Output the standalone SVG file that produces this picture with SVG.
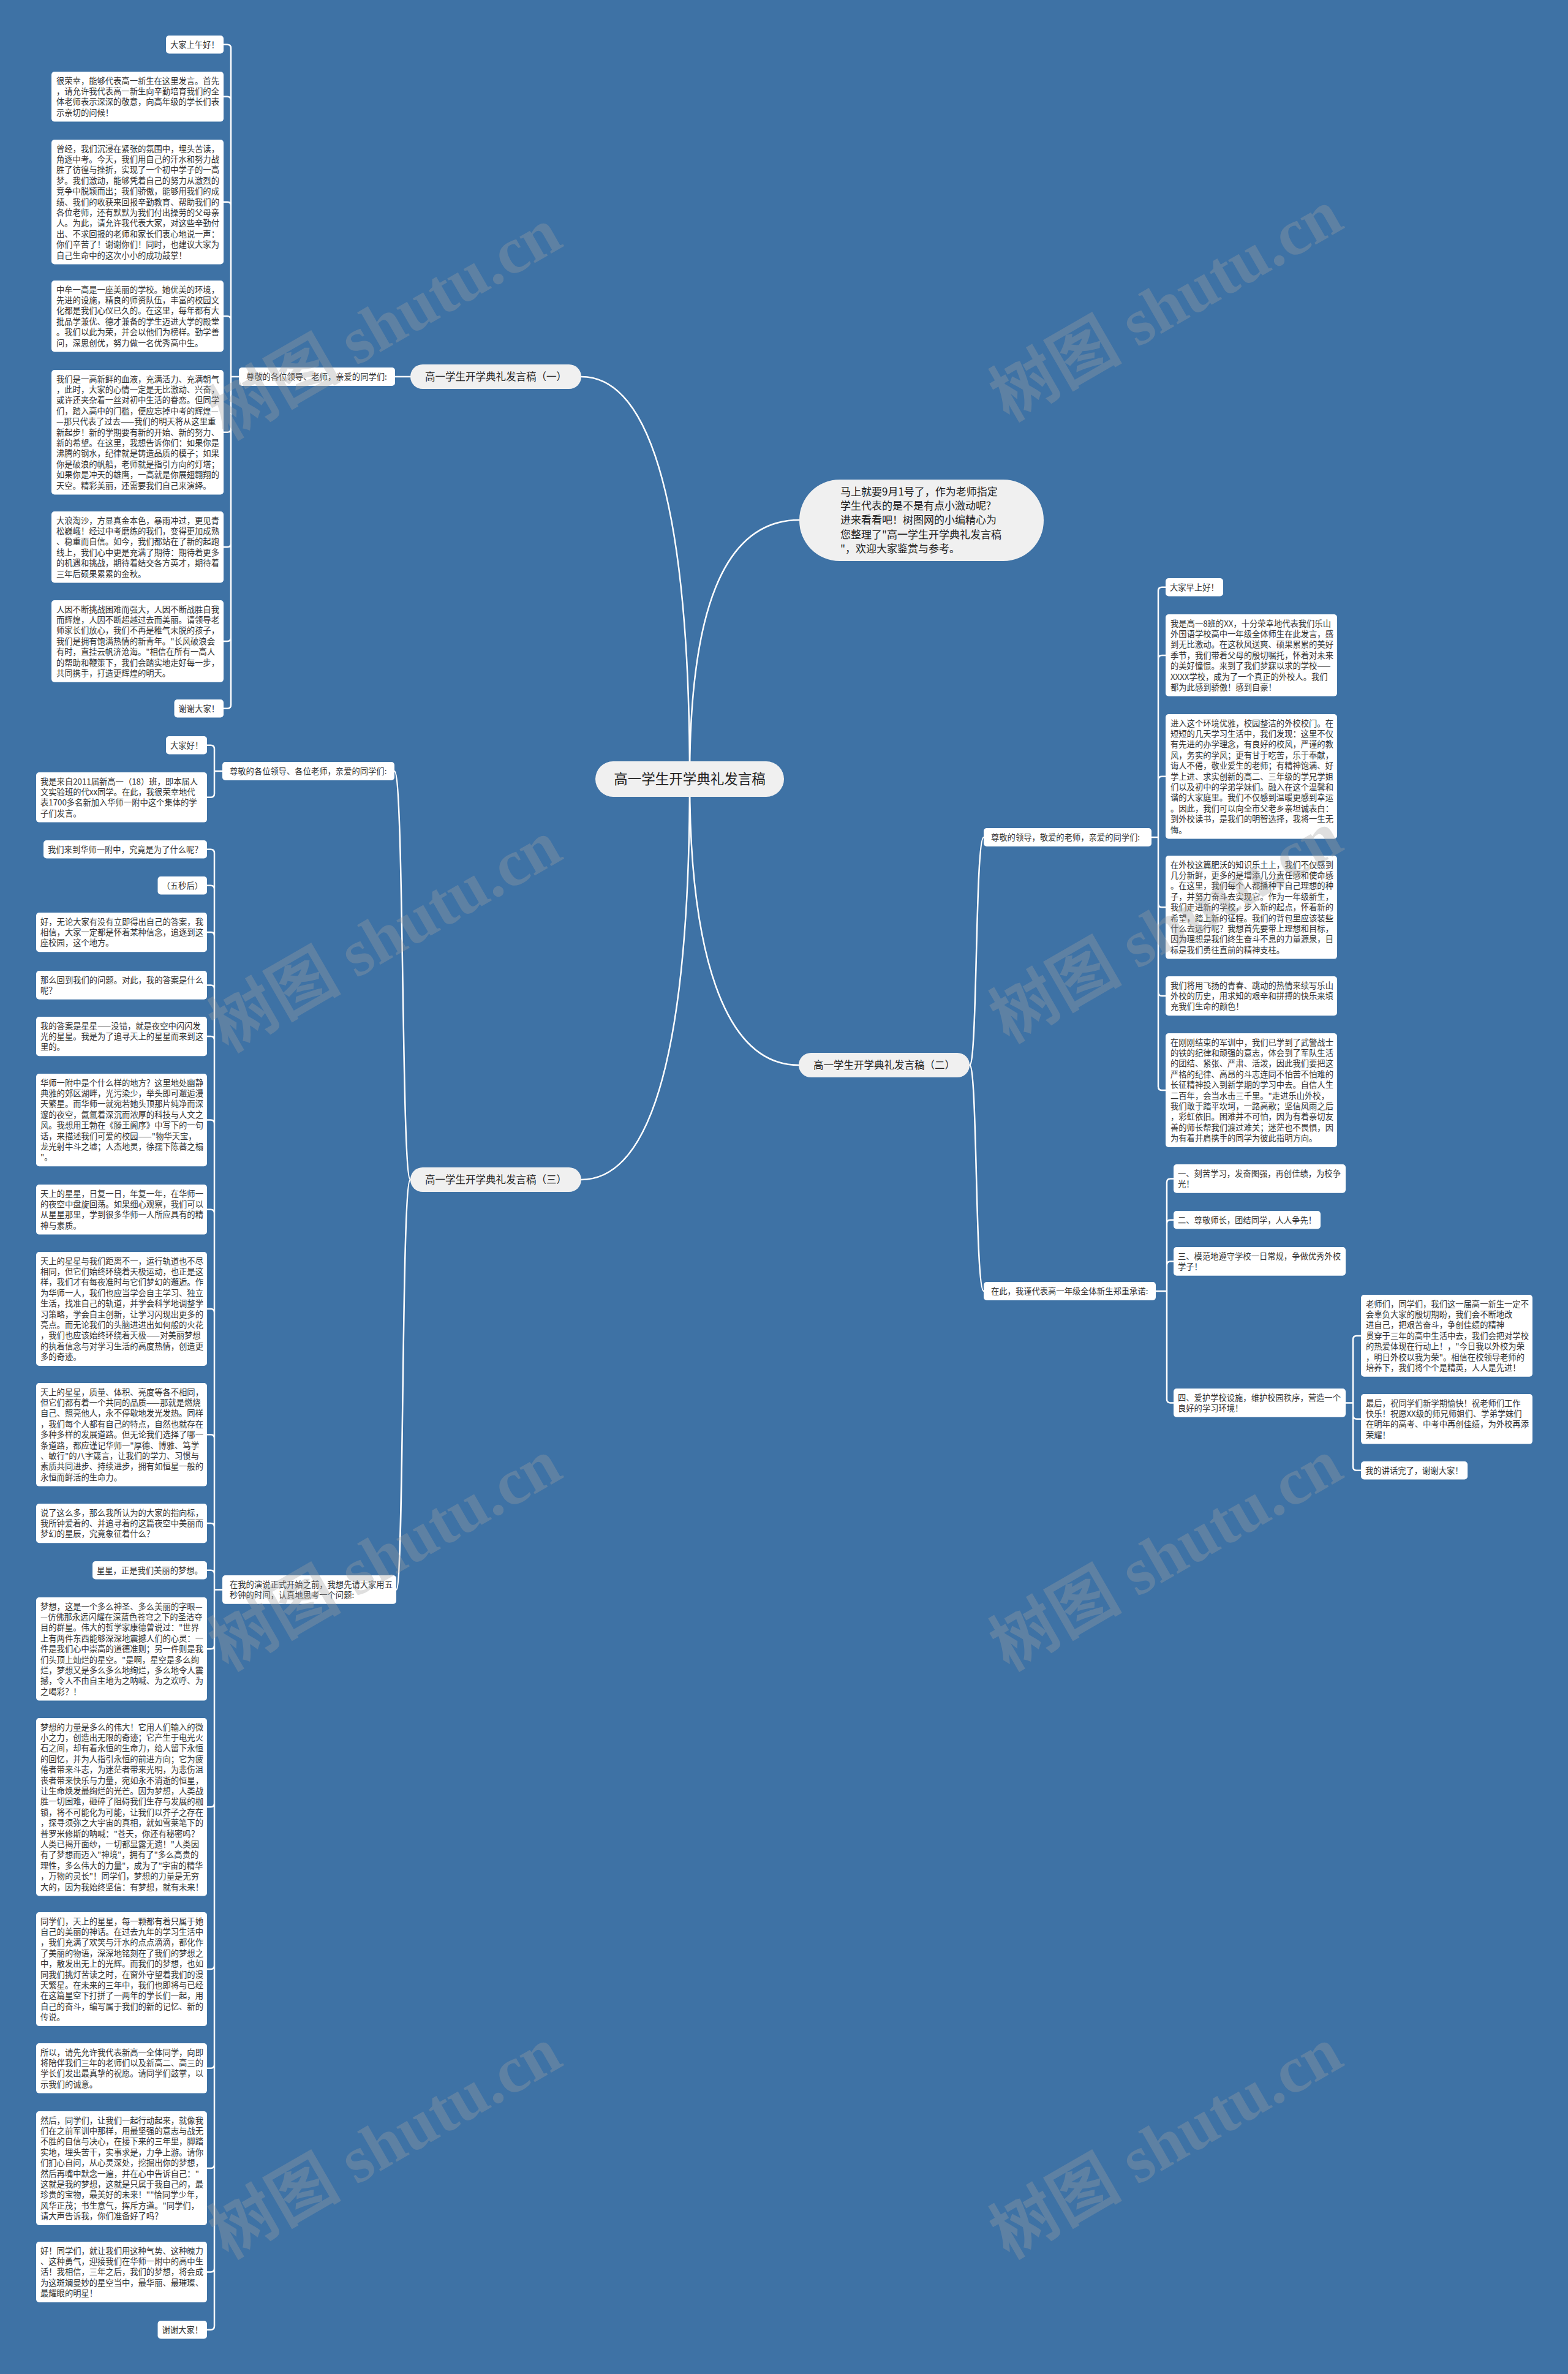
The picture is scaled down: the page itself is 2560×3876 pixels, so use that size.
<svg xmlns="http://www.w3.org/2000/svg" width="2560" height="3876" viewBox="0 0 2560 3876">
<style>
.t{font-family:"Noto Sans CJK SC","Noto Sans",sans-serif;font-size:13.3px;fill:#333}
.lf{fill:#fff}
.nd{fill:#f0f0f0}
.nt{font-family:"Noto Sans CJK SC","Noto Sans",sans-serif;font-size:16.5px;fill:#222;text-anchor:middle}
.c{fill:none;stroke:#fff;stroke-width:2.5;stroke-linecap:round}
.wm{font-family:"Liberation Serif","Noto Sans CJK SC",serif;font-size:108px;font-weight:bold;fill:#a0a0a0;opacity:0.33;text-anchor:middle}
</style>
<rect width="2560" height="3876" fill="#3e72a5"/>
<g id="connectors">
<path class="c" d="M949 615C1080 615 1126 900 1126 1272M949 1926C1080 1926 1126 1650 1126 1272M1305 849C1180 849 1126 1000 1126 1272M1304 1739C1180 1739 1126 1550 1126 1272"/>
<path class="c" d="M645 615H670"/>
<path class="c" d="M365 72.7H371Q377 72.7 377 78.7V1150.7Q377 1156.7 371 1156.7H365M365 157.8H371Q377 157.8 377 163.8M365 329.7H371Q377 329.7 377 335.7M365 516.2H371Q377 516.2 377 522.2M365 705.7H371Q377 705.7 377 699.7M365 893.2H371Q377 893.2 377 887.2M365 1046.9H371Q377 1046.9 377 1040.9M377 615H390"/>
<path class="c" d="M644 1259C660 1259 655 1926 670 1926M647 2595.5C660 2595.5 655 1926 670 1926"/>
<path class="c" d="M338 1216.7H344Q350 1216.7 350 1222.7V1295.8Q350 1301.8 344 1301.8H338M350 1259H363"/>
<path class="c" d="M338 1386.7H344Q350 1386.7 350 1392.7V3797.7Q350 3803.7 344 3803.7H338M338 1445.7H344Q350 1445.7 350 1451.7M338 1522.1H344Q350 1522.1 350 1528.1M338 1608.4H344Q350 1608.4 350 1614.4M338 1692.1H344Q350 1692.1 350 1698.1M338 1828.6H344Q350 1828.6 350 1834.6M338 1974.8H344Q350 1974.8 350 1980.8M338 2137H344Q350 2137 350 2143M338 2342.3H344Q350 2342.3 350 2348.3M338 2487.1H344Q350 2487.1 350 2493.1M338 2563.7H344Q350 2563.7 350 2569.7M338 2692.3H344Q350 2692.3 350 2686.3M338 2950.2H344Q350 2950.2 350 2944.2M338 3215H344Q350 3215 350 3209M338 3376.8H344Q350 3376.8 350 3370.8M338 3540H344Q350 3540 350 3534M338 3709.5H344Q350 3709.5 350 3703.5M350 2595.5H363"/>
<path class="c" d="M1583 1739C1596 1739 1592 1367 1606 1367M1583 1739C1596 1739 1592 2108 1606 2108"/>
<path class="c" d="M1903 958.7H1897Q1891 958.7 1891 964.7V1774Q1891 1780 1897 1780H1903M1903 1069.9H1897Q1891 1069.9 1891 1075.9M1903 1267.7H1897Q1891 1267.7 1891 1273.7M1903 1481.3H1897Q1891 1481.3 1891 1475.3M1903 1626.1H1897Q1891 1626.1 1891 1620.1M1876 1367H1891"/>
<path class="c" d="M1916 1924.4H1911Q1905 1924.4 1905 1930.4V2284.4Q1905 2290.4 1911 2290.4H1916M1916 1991.7H1911Q1905 1991.7 1905 1997.7M1916 2059.4H1911Q1905 2059.4 1905 2065.4M1887 2108H1905"/>
<path class="c" d="M2222 2180.9H2215Q2209 2180.9 2209 2186.9V2394.7Q2209 2400.7 2215 2400.7H2222M2222 2316.8H2215Q2209 2316.8 2209 2310.8M2197 2290.4H2209"/>
</g>
<g id="root"><rect class="nd" x="972" y="1243" width="308" height="58" rx="29"/><text x="1126" y="1280" style="font-family:'Noto Sans CJK SC',sans-serif;font-size:22.5px;fill:#222;text-anchor:middle">高一学生开学典礼发言稿</text></g>
<g id="intro"><rect class="nd" x="1305" y="783" width="399" height="133" rx="66"/><text style="font-family:'Noto Sans CJK SC',sans-serif;font-size:17px;fill:#222"><tspan x="1372" y="809">马上就要9月1号了，作为老师指定</tspan><tspan x="1372" dy="23.2">学生代表的是不是有点小激动呢?</tspan><tspan x="1372" dy="23.2">进来看看吧！树图网的小编精心为</tspan><tspan x="1372" dy="23.2">您整理了"高一学生开学典礼发言稿</tspan><tspan x="1372" dy="23.2">"，欢迎大家鉴赏与参考。</tspan></text></g>
<g id="n1"><rect class="nd" x="670" y="595" width="279" height="40" rx="20"/><text class="nt" x="809.5" y="621">高一学生开学典礼发言稿（一）</text></g>
<g id="n2"><rect class="nd" x="1304" y="1719" width="279" height="40" rx="20"/><text class="nt" x="1443.5" y="1745">高一学生开学典礼发言稿（二）</text></g>
<g id="n3"><rect class="nd" x="670" y="1906" width="279" height="40" rx="20"/><text class="nt" x="809.5" y="1932">高一学生开学典礼发言稿（三）</text></g>
<g id="n1-label"><rect class="lf" x="390" y="600" width="255" height="30" rx="5"/><text class="t" x="402" y="620">尊敬的各位领导、老师，亲爱的同学们:</text></g>
<g id="n1-1"><rect class="lf" x="271" y="58" width="94" height="29.4" rx="5"/><text class="t" x="278" y="77.5">大家上午好！</text></g>
<g id="n1-2"><rect class="lf" x="84" y="117" width="281" height="81.6" rx="5"/><text class="t"><tspan x="92" y="136.5">很荣幸，能够代表高一新生在这里发言。首先</tspan><tspan x="92" dy="17.4">，请允许我代表高一新生向辛勤培育我们的全</tspan><tspan x="92" dy="17.4">体老师表示深深的敬意，向高年级的学长们表</tspan><tspan x="92" dy="17.4">示亲切的问候！</tspan></text></g>
<g id="n1-3"><rect class="lf" x="84" y="228" width="281" height="203.4" rx="5"/><text class="t"><tspan x="92" y="247.5">曾经，我们沉浸在紧张的氛围中，埋头苦读，</tspan><tspan x="92" dy="17.4">角逐中考。今天，我们用自己的汗水和努力战</tspan><tspan x="92" dy="17.4">胜了彷徨与挫折，实现了一个初中学子的一高</tspan><tspan x="92" dy="17.4">梦。我们激动，能够凭着自己的努力从激烈的</tspan><tspan x="92" dy="17.4">竞争中脱颖而出；我们骄傲，能够用我们的成</tspan><tspan x="92" dy="17.4">绩、我们的收获来回报辛勤教育、帮助我们的</tspan><tspan x="92" dy="17.4">各位老师，还有默默为我们付出操劳的父母亲</tspan><tspan x="92" dy="17.4">人。为此，请允许我代表大家，对这些辛勤付</tspan><tspan x="92" dy="17.4">出、不求回报的老师和家长们衷心地说一声：</tspan><tspan x="92" dy="17.4">你们辛苦了！谢谢你们！同时，也建议大家为</tspan><tspan x="92" dy="17.4">自己生命中的这次小小的成功鼓掌！</tspan></text></g>
<g id="n1-4"><rect class="lf" x="84" y="458" width="281" height="116.4" rx="5"/><text class="t"><tspan x="92" y="477.5">中牟一高是一座美丽的学校。她优美的环境，</tspan><tspan x="92" dy="17.4">先进的设施，精良的师资队伍，丰富的校园文</tspan><tspan x="92" dy="17.4">化都是我们心仪已久的。在这里，每年都有大</tspan><tspan x="92" dy="17.4">批品学兼优、德才兼备的学生迈进大学的殿堂</tspan><tspan x="92" dy="17.4">。我们以此为荣，并会以他们为榜样。勤学善</tspan><tspan x="92" dy="17.4">问，深思创优，努力做一名优秀高中生。</tspan></text></g>
<g id="n1-5"><rect class="lf" x="84" y="604" width="281" height="203.4" rx="5"/><text class="t"><tspan x="92" y="623.5">我们是一高新鲜的血液，充满活力、充满朝气</tspan><tspan x="92" dy="17.4">，此时，大家的心情一定是无比激动、兴奋，</tspan><tspan x="92" dy="17.4">或许还夹杂着一丝对初中生活的眷恋。但同学</tspan><tspan x="92" dy="17.4">们，踏入高中的门槛，便应忘掉中考的辉煌—</tspan><tspan x="92" dy="17.4">—那只代表了过去——我们的明天将从这里重</tspan><tspan x="92" dy="17.4">新起步！新的学期要有新的开始、新的努力、</tspan><tspan x="92" dy="17.4">新的希望。在这里，我想告诉你们：如果你是</tspan><tspan x="92" dy="17.4">沸腾的钢水，纪律就是铸造品质的模子；如果</tspan><tspan x="92" dy="17.4">你是破浪的帆船，老师就是指引方向的灯塔；</tspan><tspan x="92" dy="17.4">如果你是冲天的雄鹰，一高就是你展翅翱翔的</tspan><tspan x="92" dy="17.4">天空。精彩美丽，还需要我们自己来演绎。</tspan></text></g>
<g id="n1-6"><rect class="lf" x="84" y="835" width="281" height="116.4" rx="5"/><text class="t"><tspan x="92" y="854.5">大浪淘沙，方显真金本色，暴雨冲过，更见青</tspan><tspan x="92" dy="17.4">松巍峨！经过中考磨练的我们，变得更加成熟</tspan><tspan x="92" dy="17.4">、稳重而自信。如今，我们都站在了新的起跑</tspan><tspan x="92" dy="17.4">线上，我们心中更是充满了期待：期待着更多</tspan><tspan x="92" dy="17.4">的机遇和挑战，期待着结交各方英才，期待着</tspan><tspan x="92" dy="17.4">三年后硕果累累的金秋。</tspan></text></g>
<g id="n1-7"><rect class="lf" x="84" y="980" width="281" height="133.8" rx="5"/><text class="t"><tspan x="92" y="999.5">人因不断挑战困难而强大，人因不断战胜自我</tspan><tspan x="92" dy="17.4">而辉煌，人因不断超越过去而美丽。请领导老</tspan><tspan x="92" dy="17.4">师家长们放心，我们不再是稚气未脱的孩子，</tspan><tspan x="92" dy="17.4">我们是拥有饱满热情的新青年。"长风破浪会</tspan><tspan x="92" dy="17.4">有时，直挂云帆济沧海。"相信在所有一高人</tspan><tspan x="92" dy="17.4">的帮助和鞭策下，我们会踏实地走好每一步，</tspan><tspan x="92" dy="17.4">共同携手，打造更辉煌的明天。</tspan></text></g>
<g id="n1-8"><rect class="lf" x="284.5" y="1142" width="80.5" height="29.4" rx="5"/><text class="t" x="291.5" y="1161.5">谢谢大家！</text></g>
<g id="n3-labelA"><rect class="lf" x="363" y="1244" width="281" height="30" rx="5"/><text class="t" x="375" y="1264">尊敬的各位领导、各位老师，亲爱的同学们:</text></g>
<g id="a1"><rect class="lf" x="271" y="1202" width="67" height="29.4" rx="5"/><text class="t" x="278" y="1221.5">大家好！</text></g>
<g id="a2"><rect class="lf" x="59" y="1261" width="279" height="81.6" rx="5"/><text class="t"><tspan x="66" y="1280.5">我是来自2011届新高一（18）班，即本届人</tspan><tspan x="66" dy="17.4">文实验班的代xx同学。在此，我很荣幸地代</tspan><tspan x="66" dy="17.4">表1700多名新加入华师一附中这个集体的学</tspan><tspan x="66" dy="17.4">子们发言。</tspan></text></g>
<g id="n3-labelB"><rect class="lf" x="363" y="2572" width="284" height="46.8" rx="5"/><text class="t"><tspan x="375" y="2591.5">在我的演说正式开始之前，我想先请大家用五</tspan><tspan x="375" dy="17.4">秒钟的时间，认真地思考一个问题:</tspan></text></g>
<g id="b1"><rect class="lf" x="71" y="1372" width="267" height="29.4" rx="5"/><text class="t" x="78" y="1391.5">我们来到华师一附中，究竟是为了什么呢？</text></g>
<g id="b2"><rect class="lf" x="257.5" y="1431" width="80.5" height="29.4" rx="5"/><text class="t" x="264.5" y="1450.5">（五秒后）</text></g>
<g id="b3"><rect class="lf" x="59" y="1490" width="279" height="64.2" rx="5"/><text class="t"><tspan x="66" y="1509.5">好，无论大家有没有立即得出自己的答案，我</tspan><tspan x="66" dy="17.4">相信，大家一定都是怀着某种信念，追逐到这</tspan><tspan x="66" dy="17.4">座校园，这个地方。</tspan></text></g>
<g id="b4"><rect class="lf" x="59" y="1585" width="279" height="46.8" rx="5"/><text class="t"><tspan x="66" y="1604.5">那么回到我们的问题。对此，我的答案是什么</tspan><tspan x="66" dy="17.4">呢？</tspan></text></g>
<g id="b5"><rect class="lf" x="59" y="1660" width="279" height="64.2" rx="5"/><text class="t"><tspan x="66" y="1679.5">我的答案是星星——没错，就是夜空中闪闪发</tspan><tspan x="66" dy="17.4">光的星星。我是为了追寻天上的星星而来到这</tspan><tspan x="66" dy="17.4">里的。</tspan></text></g>
<g id="b6"><rect class="lf" x="59" y="1753" width="279" height="151.2" rx="5"/><text class="t"><tspan x="66" y="1772.5">华师一附中是个什么样的地方？这里地处幽静</tspan><tspan x="66" dy="17.4">典雅的郊区湖畔，光污染少，举头即可邂逅漫</tspan><tspan x="66" dy="17.4">天繁星。而华师一就宛若她头顶那片纯净而深</tspan><tspan x="66" dy="17.4">邃的夜空，氤氲着深沉而浓厚的科技与人文之</tspan><tspan x="66" dy="17.4">风。我想用王勃在《滕王阁序》中写下的一句</tspan><tspan x="66" dy="17.4">话，来描述我们可爱的校园——"物华天宝，</tspan><tspan x="66" dy="17.4">龙光射牛斗之墟；人杰地灵，徐孺下陈蕃之榻</tspan><tspan x="66" dy="17.4">"。</tspan></text></g>
<g id="b7"><rect class="lf" x="59" y="1934" width="279" height="81.6" rx="5"/><text class="t"><tspan x="66" y="1953.5">天上的星星，日复一日，年复一年，在华师一</tspan><tspan x="66" dy="17.4">的夜空中盘旋回荡。如果细心观察，我们可以</tspan><tspan x="66" dy="17.4">从星星那里，学到很多华师一人所应具有的精</tspan><tspan x="66" dy="17.4">神与素质。</tspan></text></g>
<g id="b8"><rect class="lf" x="59" y="2044" width="279" height="186" rx="5"/><text class="t"><tspan x="66" y="2063.5">天上的星星与我们距离不一，运行轨道也不尽</tspan><tspan x="66" dy="17.4">相同，但它们始终环绕着天极运动，也正是这</tspan><tspan x="66" dy="17.4">样，我们才有每夜准时与它们梦幻的邂逅。作</tspan><tspan x="66" dy="17.4">为华师一人，我们也应当学会自主学习、独立</tspan><tspan x="66" dy="17.4">生活，找准自己的轨道，并学会科学地调整学</tspan><tspan x="66" dy="17.4">习策略，学会自主创新，让学习闪现出更多的</tspan><tspan x="66" dy="17.4">亮点。而无论我们的头脑进进出如何般的火花</tspan><tspan x="66" dy="17.4">，我们也应该始终环绕着天极——对美丽梦想</tspan><tspan x="66" dy="17.4">的执着信念与对学习生活的高度热情，创造更</tspan><tspan x="66" dy="17.4">多的奇迹。</tspan></text></g>
<g id="b9"><rect class="lf" x="59" y="2258" width="279" height="168.6" rx="5"/><text class="t"><tspan x="66" y="2277.5">天上的星星，质量、体积、亮度等各不相同，</tspan><tspan x="66" dy="17.4">但它们都有着一个共同的品质——那就是燃烧</tspan><tspan x="66" dy="17.4">自己、照亮他人，永不停歇地发光发热。同样</tspan><tspan x="66" dy="17.4">，我们每个人都有自己的特点，自然也就存在</tspan><tspan x="66" dy="17.4">多种多样的发展道路。但无论我们选择了哪一</tspan><tspan x="66" dy="17.4">条道路，都应谨记华师一"厚德、博雅、笃学</tspan><tspan x="66" dy="17.4">、敏行"的八字箴言，让我们的学力、习惯与</tspan><tspan x="66" dy="17.4">素质共同进步、持续进步，拥有如恒星一般的</tspan><tspan x="66" dy="17.4">永恒而鲜活的生命力。</tspan></text></g>
<g id="b10"><rect class="lf" x="59" y="2455" width="279" height="64.2" rx="5"/><text class="t"><tspan x="66" y="2474.5">说了这么多，那么我所认为的大家的指向标，</tspan><tspan x="66" dy="17.4">我所钟爱着的、并追寻着的这篇夜空中美丽而</tspan><tspan x="66" dy="17.4">梦幻的星辰，究竟象征着什么？</tspan></text></g>
<g id="b11"><rect class="lf" x="151" y="2549" width="187" height="29.4" rx="5"/><text class="t" x="158" y="2568.5">星星，正是我们美丽的梦想。</text></g>
<g id="b12"><rect class="lf" x="59" y="2608" width="279" height="168.6" rx="5"/><text class="t"><tspan x="66" y="2627.5">梦想，这是一个多么神圣、多么美丽的字眼—</tspan><tspan x="66" dy="17.4">—仿佛那永远闪耀在深蓝色苍穹之下的圣洁夺</tspan><tspan x="66" dy="17.4">目的群星。伟大的哲学家康德曾说过："世界</tspan><tspan x="66" dy="17.4">上有两件东西能够深深地震撼人们的心灵：一</tspan><tspan x="66" dy="17.4">件是我们心中崇高的道德准则；另一件则是我</tspan><tspan x="66" dy="17.4">们头顶上灿烂的星空。"是啊，星空是多么绚</tspan><tspan x="66" dy="17.4">烂，梦想又是多么多么地绚烂，多么地令人震</tspan><tspan x="66" dy="17.4">撼，令人不由自主地为之呐喊、为之欢呼、为</tspan><tspan x="66" dy="17.4">之喝彩？！</tspan></text></g>
<g id="b13"><rect class="lf" x="59" y="2805" width="279" height="290.4" rx="5"/><text class="t"><tspan x="66" y="2824.5">梦想的力量是多么的伟大！它用人们输入的微</tspan><tspan x="66" dy="17.4">小之力，创造出无限的奇迹；它产生于电光火</tspan><tspan x="66" dy="17.4">石之间，却有着永恒的生命力，给人留下永恒</tspan><tspan x="66" dy="17.4">的回忆，并为人指引永恒的前进方向；它为疲</tspan><tspan x="66" dy="17.4">倦者带来斗志，为迷茫者带来光明，为悲伤沮</tspan><tspan x="66" dy="17.4">丧者带来快乐与力量，宛如永不消逝的恒星，</tspan><tspan x="66" dy="17.4">让生命焕发最绚烂的光芒。因为梦想，人类战</tspan><tspan x="66" dy="17.4">胜一切困难，砸碎了阻碍我们生存与发展的枷</tspan><tspan x="66" dy="17.4">锁，将不可能化为可能，让我们以芥子之存在</tspan><tspan x="66" dy="17.4">，探寻须弥之大宇宙的真相，就如雪莱笔下的</tspan><tspan x="66" dy="17.4">普罗米修斯的呐喊："苍天，你还有秘密吗？</tspan><tspan x="66" dy="17.4">人类已揭开面纱，一切都显露无遗！"人类因</tspan><tspan x="66" dy="17.4">有了梦想而迈入"神境"，拥有了"多么高贵的</tspan><tspan x="66" dy="17.4">理性，多么伟大的力量"，成为了"宇宙的精华</tspan><tspan x="66" dy="17.4">，万物的灵长"！同学们，梦想的力量是无穷</tspan><tspan x="66" dy="17.4">大的，因为我始终坚信：有梦想，就有未来！</tspan></text></g>
<g id="b14"><rect class="lf" x="59" y="3122" width="279" height="186" rx="5"/><text class="t"><tspan x="66" y="3141.5">同学们，天上的星星，每一颗都有着只属于她</tspan><tspan x="66" dy="17.4">自己的美丽的神话。在过去九年的学习生活中</tspan><tspan x="66" dy="17.4">，我们充满了欢笑与汗水的点点滴滴，都化作</tspan><tspan x="66" dy="17.4">了美丽的物语，深深地铭刻在了我们的梦想之</tspan><tspan x="66" dy="17.4">中，散发出无上的光辉。而我们的梦想，也如</tspan><tspan x="66" dy="17.4">同我们挑灯苦读之时，在窗外守望着我们的漫</tspan><tspan x="66" dy="17.4">天繁星。在未来的三年中，我们也即将与已经</tspan><tspan x="66" dy="17.4">在这篇星空下打拼了一两年的学长们一起，用</tspan><tspan x="66" dy="17.4">自己的奋斗，编写属于我们的新的记忆、新的</tspan><tspan x="66" dy="17.4">传说。</tspan></text></g>
<g id="b15"><rect class="lf" x="59" y="3336" width="279" height="81.6" rx="5"/><text class="t"><tspan x="66" y="3355.5">所以，请先允许我代表新高一全体同学，向即</tspan><tspan x="66" dy="17.4">将陪伴我们三年的老师们以及新高二、高三的</tspan><tspan x="66" dy="17.4">学长们发出最真挚的祝愿。请同学们鼓掌，以</tspan><tspan x="66" dy="17.4">示我们的诚意。</tspan></text></g>
<g id="b16"><rect class="lf" x="59" y="3447" width="279" height="186" rx="5"/><text class="t"><tspan x="66" y="3466.5">然后，同学们，让我们一起行动起来，就像我</tspan><tspan x="66" dy="17.4">们在之前军训中那样，用最坚强的意志与战无</tspan><tspan x="66" dy="17.4">不胜的自信与决心，在接下来的三年里，脚踏</tspan><tspan x="66" dy="17.4">实地，埋头苦干，实事求是，力争上游。请你</tspan><tspan x="66" dy="17.4">们扪心自问，从心灵深处，挖掘出你的梦想，</tspan><tspan x="66" dy="17.4">然后再嘴中默念一遍，并在心中告诉自己："</tspan><tspan x="66" dy="17.4">这就是我的梦想，这就是只属于我自己的，最</tspan><tspan x="66" dy="17.4">珍贵的宝物，最美好的未来！""恰同学少年，</tspan><tspan x="66" dy="17.4">风华正茂；书生意气，挥斥方遒。"同学们，</tspan><tspan x="66" dy="17.4">请大声告诉我，你们准备好了吗？</tspan></text></g>
<g id="b17"><rect class="lf" x="59" y="3660" width="279" height="99" rx="5"/><text class="t"><tspan x="66" y="3679.5">好！同学们，就让我们用这种气势、这种魄力</tspan><tspan x="66" dy="17.4">、这种勇气，迎接我们在华师一附中的高中生</tspan><tspan x="66" dy="17.4">活！我相信，三年之后，我们的梦想，将会成</tspan><tspan x="66" dy="17.4">为这斑斓曼妙的星空当中，最华丽、最璀璨、</tspan><tspan x="66" dy="17.4">最耀眼的明星！</tspan></text></g>
<g id="b18"><rect class="lf" x="257.5" y="3789" width="80.5" height="29.4" rx="5"/><text class="t" x="264.5" y="3808.5">谢谢大家！</text></g>
<g id="n2-label1"><rect class="lf" x="1606" y="1352" width="274" height="30" rx="5"/><text class="t" x="1618" y="1372">尊敬的领导，敬爱的老师，亲爱的同学们:</text></g>
<g id="r1"><rect class="lf" x="1903" y="944" width="94" height="29.4" rx="5"/><text class="t" x="1910" y="963.5">大家早上好！</text></g>
<g id="r2"><rect class="lf" x="1903" y="1003" width="280" height="133.8" rx="5"/><text class="t"><tspan x="1911" y="1022.5">我是高一8班的XX，十分荣幸地代表我们乐山</tspan><tspan x="1911" dy="17.4">外国语学校高中一年级全体师生在此发言，感</tspan><tspan x="1911" dy="17.4">到无比激动。在这秋风送爽、硕果累累的美好</tspan><tspan x="1911" dy="17.4">季节，我们带着父母的殷切嘱托，怀着对未来</tspan><tspan x="1911" dy="17.4">的美好憧憬。来到了我们梦寐以求的学校——</tspan><tspan x="1911" dy="17.4">XXXX学校，成为了一个真正的外校人。我们</tspan><tspan x="1911" dy="17.4">都为此感到骄傲！感到自豪！</tspan></text></g>
<g id="r3"><rect class="lf" x="1903" y="1166" width="280" height="203.4" rx="5"/><text class="t"><tspan x="1911" y="1185.5">进入这个环境优雅，校园整洁的外校校门。在</tspan><tspan x="1911" dy="17.4">短短的几天学习生活中，我们发现：这里不仅</tspan><tspan x="1911" dy="17.4">有先进的办学理念，有良好的校风，严谨的教</tspan><tspan x="1911" dy="17.4">风，务实的学风；更有甘于吃苦，乐于奉献，</tspan><tspan x="1911" dy="17.4">诲人不倦，敬业爱生的老师；有精神饱满、好</tspan><tspan x="1911" dy="17.4">学上进、求实创新的高二、三年级的学兄学姐</tspan><tspan x="1911" dy="17.4">们以及初中的学弟学妹们。融入在这个温馨和</tspan><tspan x="1911" dy="17.4">谐的大家庭里。我们不仅感到温暖更感到幸运</tspan><tspan x="1911" dy="17.4">。因此，我们可以向全市父老乡亲坦诚表白：</tspan><tspan x="1911" dy="17.4">到外校读书，是我们的明智选择，我将一生无</tspan><tspan x="1911" dy="17.4">悔。</tspan></text></g>
<g id="r4"><rect class="lf" x="1903" y="1397" width="280" height="168.6" rx="5"/><text class="t"><tspan x="1911" y="1416.5">在外校这篇肥沃的知识乐土上，我们不仅感到</tspan><tspan x="1911" dy="17.4">几分新鲜，更多的是增添几分责任感和使命感</tspan><tspan x="1911" dy="17.4">。在这里，我们每个人都播种下自己理想的种</tspan><tspan x="1911" dy="17.4">子，并努力奋斗去实现它。作为一年级新生，</tspan><tspan x="1911" dy="17.4">我们走进新的学校，步入新的起点，怀着新的</tspan><tspan x="1911" dy="17.4">希望，踏上新的征程。我们的背包里应该装些</tspan><tspan x="1911" dy="17.4">什么去远行呢？我想首先要带上理想和目标，</tspan><tspan x="1911" dy="17.4">因为理想是我们终生奋斗不息的力量源泉，目</tspan><tspan x="1911" dy="17.4">标是我们勇往直前的精神支柱。</tspan></text></g>
<g id="r5"><rect class="lf" x="1903" y="1594" width="280" height="64.2" rx="5"/><text class="t"><tspan x="1911" y="1613.5">我们将用飞扬的青春、跳动的热情来续写乐山</tspan><tspan x="1911" dy="17.4">外校的历史，用求知的艰辛和拼搏的快乐来填</tspan><tspan x="1911" dy="17.4">充我们生命的颜色！</tspan></text></g>
<g id="r6"><rect class="lf" x="1903" y="1687" width="280" height="186" rx="5"/><text class="t"><tspan x="1911" y="1706.5">在刚刚结束的军训中，我们已学到了武警战士</tspan><tspan x="1911" dy="17.4">的铁的纪律和顽强的意志，体会到了军队生活</tspan><tspan x="1911" dy="17.4">的团结、紧张、严肃、活泼，因此我们要把这</tspan><tspan x="1911" dy="17.4">严格的纪律、高昂的斗志连同不怕苦不怕难的</tspan><tspan x="1911" dy="17.4">长征精神投入到新学期的学习中去。自信人生</tspan><tspan x="1911" dy="17.4">二百年，会当水击三千里。"走进乐山外校，</tspan><tspan x="1911" dy="17.4">我们敢于踏平坎坷，一路高歌；坚信风雨之后</tspan><tspan x="1911" dy="17.4">，彩虹依旧。困难并不可怕，因为有着亲切友</tspan><tspan x="1911" dy="17.4">善的师长帮我们渡过难关；迷茫也不畏惧，因</tspan><tspan x="1911" dy="17.4">为有着并肩携手的同学为彼此指明方向。</tspan></text></g>
<g id="n2-label2"><rect class="lf" x="1606" y="2093" width="281" height="30" rx="5"/><text class="t" x="1618" y="2113">在此，我谨代表高一年级全体新生郑重承诺:</text></g>
<g id="s1"><rect class="lf" x="1916" y="1901" width="281" height="46.8" rx="5"/><text class="t"><tspan x="1923" y="1920.5">一、刻苦学习，发奋图强，再创佳绩，为校争</tspan><tspan x="1923" dy="17.4">光！</tspan></text></g>
<g id="s2"><rect class="lf" x="1916" y="1977" width="240" height="29.4" rx="5"/><text class="t" x="1923" y="1996.5">二、尊敬师长，团结同学，人人争先！</text></g>
<g id="s3"><rect class="lf" x="1916" y="2036" width="281" height="46.8" rx="5"/><text class="t"><tspan x="1923" y="2055.5">三、模范地遵守学校一日常规，争做优秀外校</tspan><tspan x="1923" dy="17.4">学子！</tspan></text></g>
<g id="s4"><rect class="lf" x="1916" y="2267" width="281" height="46.8" rx="5"/><text class="t"><tspan x="1923" y="2286.5">四、爱护学校设施，维护校园秩序，营造一个</tspan><tspan x="1923" dy="17.4">良好的学习环境！</tspan></text></g>
<g id="t1"><rect class="lf" x="2222" y="2114" width="280" height="133.8" rx="5"/><text class="t"><tspan x="2230" y="2133.5">老师们，同学们，我们这一届高一新生一定不</tspan><tspan x="2230" dy="17.4">会辜负大家的殷切期盼，我们会不断地改</tspan><tspan x="2230" dy="17.4">进自己，把艰苦奋斗，争创佳绩的精神</tspan><tspan x="2230" dy="17.4">贯穿于三年的高中生活中去，我们会把对学校</tspan><tspan x="2230" dy="17.4">的热爱体现在行动上！，"今日我以外校为荣</tspan><tspan x="2230" dy="17.4">，明日外校以我为荣"。相信在校领导老师的</tspan><tspan x="2230" dy="17.4">培养下，我们将个个是精英，人人是先进！</tspan></text></g>
<g id="t2"><rect class="lf" x="2222" y="2276" width="280" height="81.6" rx="5"/><text class="t"><tspan x="2230" y="2295.5">最后，祝同学们新学期愉快！祝老师们工作</tspan><tspan x="2230" dy="17.4">快乐！祝愿XX级的师兄师姐们、学弟学妹们</tspan><tspan x="2230" dy="17.4">在明年的高考、中考中再创佳绩，为外校再添</tspan><tspan x="2230" dy="17.4">荣耀！</tspan></text></g>
<g id="t3"><rect class="lf" x="2222" y="2386" width="174" height="29.4" rx="5"/><text class="t" x="2229" y="2405.5">我的讲话完了，谢谢大家！</text></g>
<g id="watermarks">
<text class="wm" transform="translate(647,560) rotate(-30)">树图 shutu.cn</text>
<text class="wm" transform="translate(1922,530) rotate(-30)">树图 shutu.cn</text>
<text class="wm" transform="translate(647,1560) rotate(-30)">树图 shutu.cn</text>
<text class="wm" transform="translate(1922,1545) rotate(-30)">树图 shutu.cn</text>
<text class="wm" transform="translate(647,2570) rotate(-30)">树图 shutu.cn</text>
<text class="wm" transform="translate(1922,2570) rotate(-30)">树图 shutu.cn</text>
<text class="wm" transform="translate(647,3530) rotate(-30)">树图 shutu.cn</text>
<text class="wm" transform="translate(1922,3530) rotate(-30)">树图 shutu.cn</text>
</g>
</svg>
